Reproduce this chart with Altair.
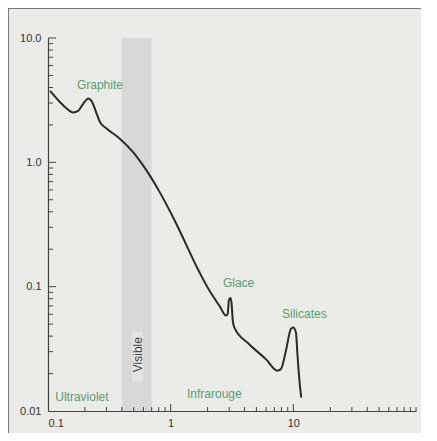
import altair as alt
import pandas as pd

# Extinction curve (wavelength in micrometres, relative extinction)
wl = [0.104, 0.125, 0.142, 0.161, 0.176, 0.194, 0.213, 0.226, 0.249, 0.265, 0.300,
      0.385, 0.494, 0.635, 0.814, 1.078, 1.72, 2.07, 2.5, 2.83, 2.92, 2.98, 3.06,
      3.13, 3.21, 3.3, 4.37, 6.0, 7.4, 7.93, 8.7, 9.55, 9.98, 10.5, 10.8, 11.1, 11.6]
ext = [3.76, 3.06, 2.71, 2.52, 2.59, 2.97, 3.26, 3.12, 2.47, 2.11, 1.87,
       1.55, 1.21, 0.862, 0.576, 0.341, 0.130, 0.093, 0.070, 0.0585, 0.0606, 0.0774, 0.081,
       0.0749, 0.0533, 0.047, 0.0344, 0.026, 0.0211, 0.0218, 0.0305, 0.0457, 0.047, 0.0428, 0.0286, 0.0197, 0.0128]

# Visible band
band_x = [0.4]
band_x2 = [0.7]

# Annotations
ann_text = ["Graphite", "Glace", "Silicates", "Ultraviolet", "Infrarouge"]
ann_x = [0.265, 3.58, 12.3, 0.189, 2.27]
ann_y = [4.2, 0.108, 0.0606, 0.013, 0.0137]

vis_text = ["Visible"]
vis_x = [0.54]
vis_y = [0.0284]
vis_box_x = [0.485]
vis_box_x2 = [0.595]
vis_box_y = [0.0435]
vis_box_y2 = [0.0173]

# Tick positions
x_major_ticks = [1, 10]
x_minor_ticks = [0.2, 0.3, 0.4, 0.5, 0.6, 0.7, 0.8, 0.9,
                 2, 3, 4, 5, 6, 7, 8, 9,
                 20, 30, 40, 50, 60, 70, 80, 90, 100]
y_major_ticks = [0.1, 1, 10]
y_minor_ticks = [m * d for d in (0.01, 0.1, 1) for m in range(2, 10)]

x_label_vals = [0.1, 1, 10]
y_label_vals = [0.01, 0.1, 1, 10]

W, H = 368, 373
AX = "#444444"
GREEN = "#5a9e6c"

xs = alt.Scale(type="log", domain=[0.1, 100], nice=False)
ys = alt.Scale(type="log", domain=[0.01, 10], nice=False)

curve_df = pd.DataFrame({"wl": wl, "ext": ext})
band_df = pd.DataFrame({"x": band_x, "x2": band_x2, "y": [10], "y2": [0.01]})
box_df = pd.DataFrame({"x": vis_box_x, "x2": vis_box_x2, "y": vis_box_y, "y2": vis_box_y2})
ann_df = pd.DataFrame({"t": ann_text, "x": ann_x, "y": ann_y})
vis_df = pd.DataFrame({"t": vis_text, "x": vis_x, "y": vis_y})

band = alt.Chart(band_df).mark_rect(color="#d8d8d8").encode(
    x=alt.X("x:Q", scale=xs, axis=alt.Axis(
        values=x_label_vals, ticks=False, domainColor=AX, domainWidth=1.2,
        labelColor="#333333", labelFont="Liberation Sans", labelFontSize=11,
        labelPadding=6, grid=False, title=None,
        labelExpr="datum.value >= 1 ? format(datum.value, 'd') : '0.1'")),
    x2="x2:Q",
    y=alt.Y("y:Q", scale=ys, axis=alt.Axis(
        values=y_label_vals, ticks=False, domainColor=AX, domainWidth=1.2,
        labelColor="#333333", labelFont="Liberation Sans", labelFontSize=11,
        labelPadding=7, grid=False, title=None,
        labelExpr="datum.value >= 1 ? format(datum.value, '.1f') : (datum.value >= 0.1 ? '0.1' : '0.01')")),
    y2="y2:Q",
)

box = alt.Chart(box_df).mark_rect(color="#e4e4e3").encode(
    x=alt.X("x:Q", scale=xs), x2="x2:Q", y=alt.Y("y:Q", scale=ys), y2="y2:Q")

line = alt.Chart(curve_df).mark_line(color="#2b2b2b", strokeWidth=2, interpolate="monotone").encode(
    x=alt.X("wl:Q", scale=xs), y=alt.Y("ext:Q", scale=ys))

ann = alt.Chart(ann_df).mark_text(color=GREEN, font="Liberation Sans", fontSize=12).encode(
    x=alt.X("x:Q", scale=xs), y=alt.Y("y:Q", scale=ys), text="t:N")

vis = alt.Chart(vis_df).mark_text(color="#444444", font="Liberation Sans", fontSize=12, angle=270).encode(
    x=alt.X("x:Q", scale=xs), y=alt.Y("y:Q", scale=ys), text="t:N")

xmaj = alt.Chart(pd.DataFrame({"v": x_major_ticks})).mark_rule(color=AX, strokeWidth=1).encode(
    x=alt.X("v:Q", scale=xs), y=alt.value(H), y2=alt.value(H - 7))
xmin = alt.Chart(pd.DataFrame({"v": x_minor_ticks})).mark_rule(color=AX, strokeWidth=1).encode(
    x=alt.X("v:Q", scale=xs), y=alt.value(H), y2=alt.value(H - 4))
ymaj = alt.Chart(pd.DataFrame({"v": y_major_ticks})).mark_rule(color=AX, strokeWidth=1).encode(
    y=alt.Y("v:Q", scale=ys), x=alt.value(0), x2=alt.value(8))
ymin = alt.Chart(pd.DataFrame({"v": y_minor_ticks})).mark_rule(color=AX, strokeWidth=1).encode(
    y=alt.Y("v:Q", scale=ys), x=alt.value(0), x2=alt.value(5))

frame_left = alt.Chart(pd.DataFrame({"v": [0]})).mark_rule(color="#555555", strokeWidth=1.5).encode(
    x=alt.value(-40), y=alt.value(-30), y2=alt.value(H + 40))
frame_top = alt.Chart(pd.DataFrame({"v": [0]})).mark_rule(color="#555555", strokeWidth=1.5).encode(
    y=alt.value(-30), x=alt.value(-40), x2=alt.value(W + 40))

chart = alt.layer(band, box, frame_left, frame_top, xmaj, xmin, ymaj, ymin, line, ann, vis).properties(
    width=W, height=H,
    autosize=alt.AutoSizeParams(type="none"),
    padding={"left": 40, "top": 30, "right": 5, "bottom": 22},
    background="#ebebe9",
).configure_view(stroke=None)

chart.save("out.html", embed_options={"renderer": "svg", "actions": False})
